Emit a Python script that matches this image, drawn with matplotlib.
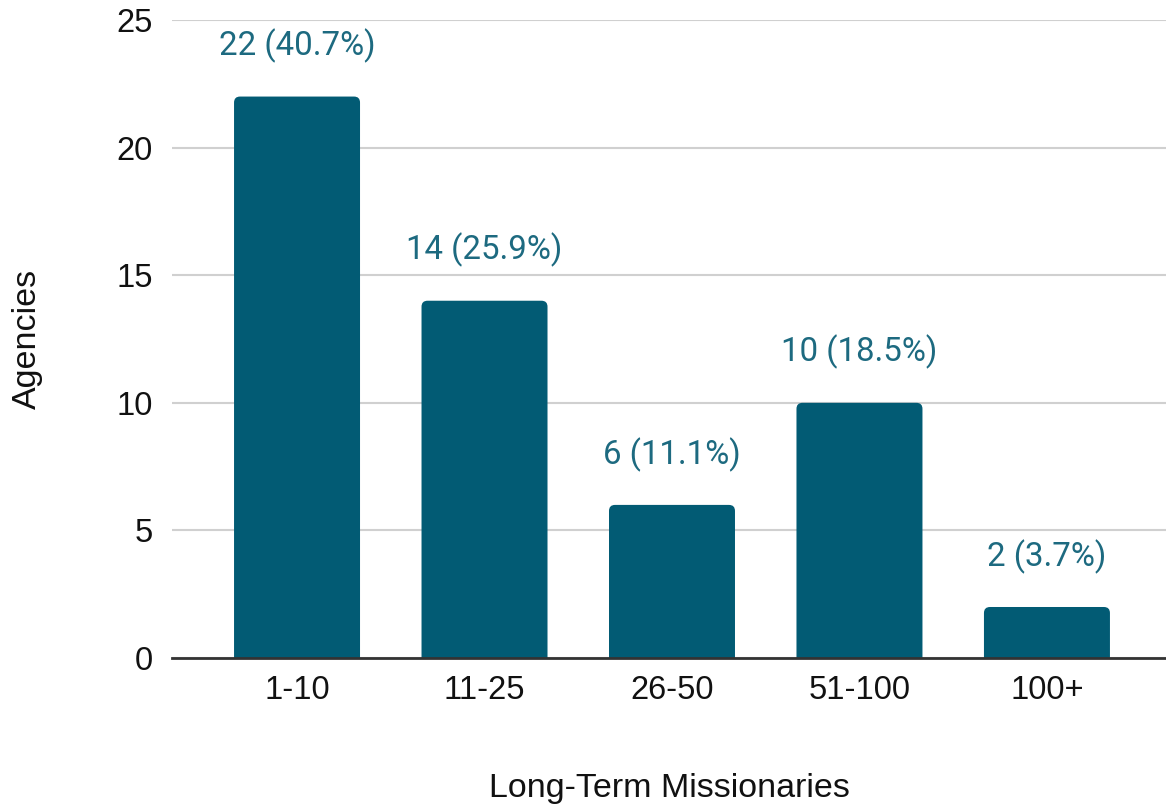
import numpy as np
import matplotlib.pyplot as plt
from matplotlib.patches import FancyBboxPatch

plt.rcParams['font.family'] = ['Liberation Sans', 'DejaVu Sans']

categories = ['1-10', '11-25', '26-50', '51-100', '100+']
agencies = [22, 14, 6, 10, 2]

BAR_COLOR = '#025b74'
LABEL_COLOR = '#1d6a80'
TEXT_COLOR = '#111111'


def rounded_bars(ax, bars, color, radius_px=6):
    """Replace the plain bars with top-rounded ones."""
    fig = ax.figure
    fig.canvas.draw()
    bbox = ax.get_window_extent()
    x0, x1 = ax.get_xlim()
    y0, y1 = ax.get_ylim()
    px_x = bbox.width / (x1 - x0)
    px_y = bbox.height / (y1 - y0)
    r = radius_px / px_x
    for b in bars:
        x, w, h = b.get_x(), b.get_width(), b.get_height()
        b.remove()
        p = FancyBboxPatch((x, -1), w, h + 1,
                           boxstyle=f"round,pad=0,rounding_size={r}",
                           mutation_aspect=px_x / px_y,
                           facecolor=color, edgecolor='none', zorder=3)
        ax.add_patch(p)


fig = plt.figure(figsize=(11.66, 8.09), dpi=100)
ax = fig.add_axes([0.1475, 0.1866, 0.8525, 0.7887])

x = np.arange(len(categories))
bars = ax.bar(x, agencies, width=0.672, color=BAR_COLOR, zorder=3)

ax.set_xlim(-0.667, 4.635)
ax.set_ylim(0, 25)
ax.set_yticks([0, 5, 10, 15, 20, 25])
ax.set_xticks(x)
ax.set_xticklabels(categories)

ax.grid(axis='y', color='#d0d0d0', linewidth=1.5, zorder=0)
for s in ['left', 'right', 'top']:
    ax.spines[s].set_visible(False)
ax.spines['bottom'].set_color('#333333')
ax.spines['bottom'].set_linewidth(2)
ax.spines['bottom'].set_zorder(4)
ax.tick_params(axis='both', length=0, labelsize=23.5, colors=TEXT_COLOR)
ax.tick_params(axis='x', pad=12)
ax.tick_params(axis='y', pad=14)

total = sum(agencies)
for xi, v in zip(x, agencies):
    ax.annotate(f"{v} ({v / total * 100:.1f}%)", (xi, v), xytext=(0, 24),
                textcoords='offset points', ha='center', va='bottom',
                fontsize=23.8, color=LABEL_COLOR, zorder=5,
                family=['Roboto', 'DejaVu Sans'])

ax.set_xlabel('Long-Term Missionaries', fontsize=24.5, color=TEXT_COLOR)
ax.set_ylabel('Agencies', fontsize=24.5, color=TEXT_COLOR)
ax.xaxis.set_label_coords(0.5, -0.204)
ax.xaxis.label.set_va('center')
ax.yaxis.set_label_coords(-0.145, 0.5)
ax.yaxis.label.set_va('center')

rounded_bars(ax, bars, BAR_COLOR)

fig.savefig('out.png', dpi=100)
